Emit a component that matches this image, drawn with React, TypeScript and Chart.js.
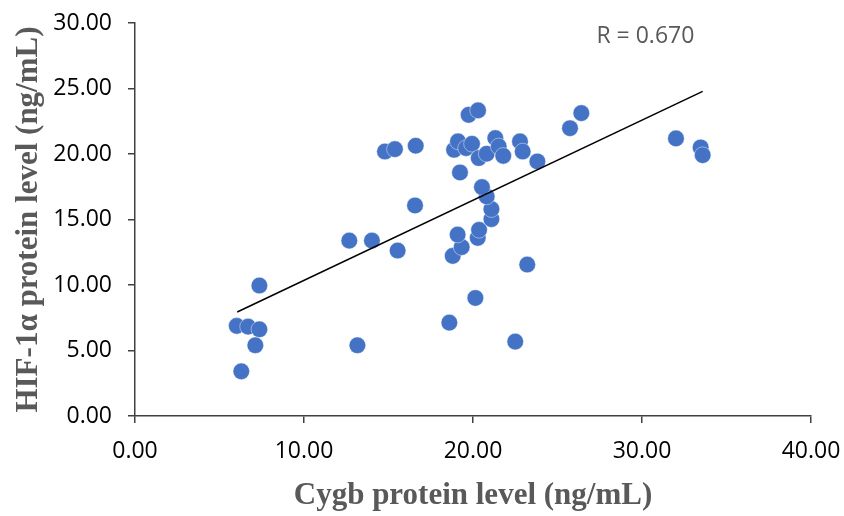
import React, { useEffect, useRef } from "react";
import { Chart, registerables } from "chart.js";

Chart.register(...registerables);

// Cygb protein level (ng/mL) for each sample
const cygbLevels = [
  6.02, 6.69, 7.36, 7.12, 6.29, 7.36, 12.68, 14.02, 15.54, 13.16,
  16.57, 14.79, 15.38, 16.61, 18.6, 20.14, 18.8, 19.33, 19.09, 20.28,
  20.36, 21.09, 21.09, 20.81, 20.53, 19.23, 18.88, 19.11, 19.59, 19.94,
  20.34, 20.81, 21.32, 21.52, 21.79, 19.74, 20.3, 22.78, 22.94, 23.81,
  22.5, 23.21, 25.74, 26.41, 32.01, 33.47, 33.59,
];
// HIF-1α protein level (ng/mL) for each sample
const hif1aLevels = [
  6.88, 6.82, 6.62, 5.4, 3.41, 9.96, 13.39, 13.39, 12.63, 5.4,
  16.07, 20.19, 20.37, 20.63, 7.13, 9.01, 12.22, 12.89, 13.85, 13.6,
  14.21, 15.03, 15.79, 16.76, 17.47, 18.59, 20.32, 20.96, 20.45, 20.78,
  19.69, 20.02, 21.21, 20.58, 19.86, 22.99, 23.33, 20.96, 20.19, 19.43,
  5.68, 11.56, 21.97, 23.12, 21.19, 20.5, 19.91,
];
// Linear trendline end points
const trendX = [6.05, 33.59];
const trendY = [7.94, 24.78];

const xTicks = [0, 10, 20, 30, 40];
const yTicks = [0, 5, 10, 15, 20, 25, 30];

const annotationText = "R = 0.670";
const annotationPos = [30.2, 29.0];

export default function App() {
  const canvasRef = useRef<HTMLCanvasElement | null>(null);

  useEffect(() => {
    const canvas = canvasRef.current;
    if (!canvas) return;

    const annotationPlugin = {
      id: "rAnnotation",
      afterDraw(chart: any) {
        const { ctx, scales } = chart;
        const x = scales.x.getPixelForValue(annotationPos[0]);
        const y = scales.y.getPixelForValue(annotationPos[1]);
        ctx.save();
        ctx.font = '23px "Open Sans"';
        ctx.fillStyle = "#595959";
        ctx.textAlign = "center";
        ctx.textBaseline = "middle";
        ctx.fillText(annotationText, x, y);
        ctx.restore();
      },
    };

    const chart = new Chart(canvas, {
      type: "scatter",
      data: {
        datasets: [
          {
            type: "line",
            label: "Trend",
            data: trendX.map((x, i) => ({ x, y: trendY[i] })),
            borderColor: "#000000",
            borderWidth: 1.5,
            pointRadius: 0,
            fill: false,
          } as any,
          {
            label: "Samples",
            data: cygbLevels.map((x, i) => ({ x, y: hif1aLevels[i] })),
            backgroundColor: "#4472C4",
            borderColor: "rgba(255,255,255,0.55)",
            borderWidth: 0.8,
            pointRadius: 8.3,
            pointHoverRadius: 8.3,
          },
        ],
      },
      options: {
        responsive: false,
        devicePixelRatio: 1,
        animation: false,
        events: [],
        layout: { padding: { top: 23, right: 33, bottom: 0, left: 0 } },
        plugins: {
          legend: { display: false },
          tooltip: { enabled: false },
        },
        scales: {
          x: {
            type: "linear",
            min: 0,
            max: 40,
            afterBuildTicks: (scale: any) => {
              scale.ticks = xTicks.map((v) => ({ value: v }));
            },
            afterFit: (scale: any) => {
              scale.height = 100;
              scale.paddingLeft = 0;
              scale.paddingRight = 0;
            },
            ticks: {
              font: { family: "Open Sans", size: 23 },
              color: "#000000",
              padding: 15,
              maxRotation: 0,
              callback: (v: any) => Number(v).toFixed(2),
            },
            grid: {
              drawOnChartArea: false,
              drawTicks: true,
              tickLength: 7,
              color: "#404040",
              lineWidth: 1.5,
            },
            border: { display: true, color: "#404040", width: 1.5 },
            title: {
              display: true,
              text: "Cygb protein level (ng/mL)",
              font: { family: "Liberation Serif", size: 31, weight: "bold" },
              color: "#595959",
              padding: { top: 0, bottom: 1 },
            },
          },
          y: {
            type: "linear",
            min: 0,
            max: 30,
            afterBuildTicks: (scale: any) => {
              scale.ticks = yTicks.map((v) => ({ value: v }));
            },
            afterFit: (scale: any) => {
              scale.width = 135;
              scale.paddingTop = 0;
              scale.paddingBottom = 0;
            },
            ticks: {
              font: { family: "Open Sans", size: 23 },
              color: "#000000",
              padding: 16,
              callback: (v: any) => Number(v).toFixed(2),
            },
            grid: {
              drawOnChartArea: false,
              drawTicks: true,
              tickLength: 7,
              color: "#404040",
              lineWidth: 1.5,
            },
            border: { display: true, color: "#404040", width: 1.5 },
            title: {
              display: true,
              text: "HIF-1α protein level (ng/mL)",
              font: { family: "Liberation Serif", size: 31, weight: "bold" },
              color: "#595959",
              padding: { top: 10, bottom: 0 },
            },
          },
        },
      },
      plugins: [annotationPlugin],
    });

    return () => chart.destroy();
  }, []);

  return (
    <div style={{ position: "fixed", left: 0, top: 0, width: 844, height: 516, background: "#ffffff" }}>
      <canvas ref={canvasRef} width={844} height={516} style={{ display: "block" }} />
    </div>
  );
}
